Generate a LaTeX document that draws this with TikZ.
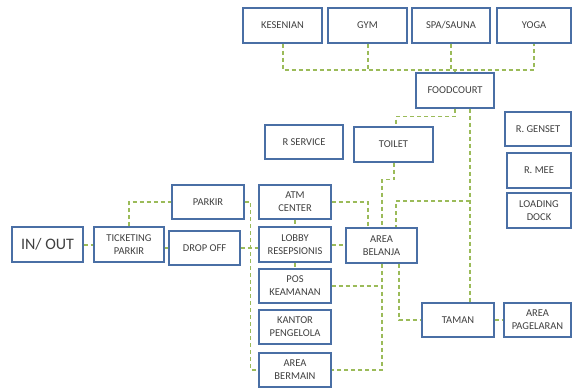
\documentclass[tikz,border=0pt]{standalone}
\usepackage{fontspec}
\setmainfont{Carlito}
\definecolor{bx}{HTML}{4A6FA5}
\definecolor{gr}{HTML}{9BBB59}
\definecolor{tx}{HTML}{404040}
\begin{document}
\begin{tikzpicture}[x=1pt,y=-1pt,
  box/.style={draw=bx,line width=1.3pt,fill=white,text=tx,align=center,inner sep=1pt,
    font=\fontsize{10.5}{13}\selectfont},
  con/.style={draw=gr,line width=1.4pt,dash pattern=on 4pt off 3pt}]
\useasboundingbox (0,0) rectangle (572,388);
% boxes
\node[box,minimum width=79pt,minimum height=35pt] (kes) at (282.5,25.5) {KESENIAN};
\node[box,minimum width=79pt,minimum height=35pt] (gym) at (367.5,25.5) {GYM};
\node[box,minimum width=78pt,minimum height=35pt] (spa) at (451,25.5) {SPA/SAUNA};
\node[box,minimum width=74pt,minimum height=35pt] (yoga) at (534,25.5) {YOGA};
\node[box,minimum width=78pt,minimum height=35pt] (food) at (455,90.5) {FOODCOURT};
\node[box,minimum width=78pt,minimum height=34pt] (rserv) at (304,142) {R SERVICE};
\node[box,minimum width=79pt,minimum height=35pt] (toilet) at (393.5,144.5) {TOILET};
\node[box,minimum width=66pt,minimum height=34pt] (genset) at (538,129) {R. GENSET};
\node[box,minimum width=64pt,minimum height=35pt] (mee) at (539,170.5) {R. MEE};
\node[box,minimum width=64pt,minimum height=35pt] (loading) at (539,210.5) {LOADING\\DOCK};
\node[box,minimum width=72pt,minimum height=34pt] (atm) at (295,202) {ATM\\CENTER};
\node[box,minimum width=72pt,minimum height=34pt] (parkir) at (208,202) {PARKIR};
\node[box,minimum width=71pt,minimum height=35pt,font=\fontsize{16}{19}\selectfont] (inout) at (47.5,244.5) {IN/ OUT};
\node[box,minimum width=70pt,minimum height=35pt] (ticket) at (129,244.5) {TICKETING\\PARKIR};
\node[box,minimum width=71pt,minimum height=34pt] (drop) at (204.5,248) {DROP OFF};
\node[box,minimum width=72pt,minimum height=35pt] (lobby) at (295,244.5) {LOBBY\\RESEPSIONIS};
\node[box,minimum width=71pt,minimum height=35pt] (belanja) at (381.5,245.5) {AREA\\BELANJA};
\node[box,minimum width=72pt,minimum height=34pt] (pos) at (295,286) {POS\\KEAMANAN};
\node[box,minimum width=72pt,minimum height=34pt] (kantor) at (295,327) {KANTOR\\PENGELOLA};
\node[box,minimum width=72pt,minimum height=34pt] (bermain) at (295,370) {AREA\\BERMAIN};
\node[box,minimum width=72pt,minimum height=34pt] (taman) at (458,320) {TAMAN};
\node[box,minimum width=67pt,minimum height=34pt] (pagelaran) at (537.5,320) {AREA\\PAGELARAN};
\coordinate (bv) at ([xshift=.5pt]belanja.south);
% connectors
\draw[con] ([xshift=.5pt]kes.south) -- ([xshift=.5pt]kes.south |- 0,70) -| (yoga.south);
\draw[con] ([xshift=.5pt]gym.south) -- ([xshift=.5pt]gym.south |- 0,70);
\draw[con] (spa.south) -- (spa.south |- 0,70);
\draw[con] (food.north) -- (food.north |- 0,70);
\draw[con] (food.south) -- ++(0,8) -| ([xshift=2.5pt]toilet.north);
\draw[con] ([xshift=15pt]food.south) -- ([xshift=12pt]taman.north);
\draw[con] ([xshift=15pt]food.south |- 0,201) -| ([xshift=14.5pt]belanja.north);
\draw[con] ([xshift=.5pt]toilet.south) -- ++(0,17) -| ([xshift=.5pt]belanja.north);
\draw[con] (atm.east) -| ([xshift=-13.5pt]belanja.north);
\draw[con] (atm.south) -- (lobby.north);
\draw[con] (lobby.south) -- (pos.north);
\draw[con] ([yshift=-.5pt]lobby.east) -- ([yshift=-.5pt]lobby.east -| belanja.west);
\draw[con] (pos.east) -- (pos.east -| bv);
\draw[con] (bv) |- (bermain.east);
\draw[con] ([xshift=17.5pt]belanja.south) |- (taman.west);
\draw[con] (taman.east) -- (pagelaran.west);
\draw[con] ([yshift=-.5pt]inout.east) -- ([yshift=-.5pt]ticket.west);
\draw[con] (ticket.north) |- (parkir.west);
\draw[con] (drop.west -| ticket.east) -- (drop.west);
\draw[con] (drop.east) -- (drop.east -| lobby.west);
\draw[con] (parkir.east) -- ++(6,0) |- (bermain.west);
\end{tikzpicture}
\end{document}
